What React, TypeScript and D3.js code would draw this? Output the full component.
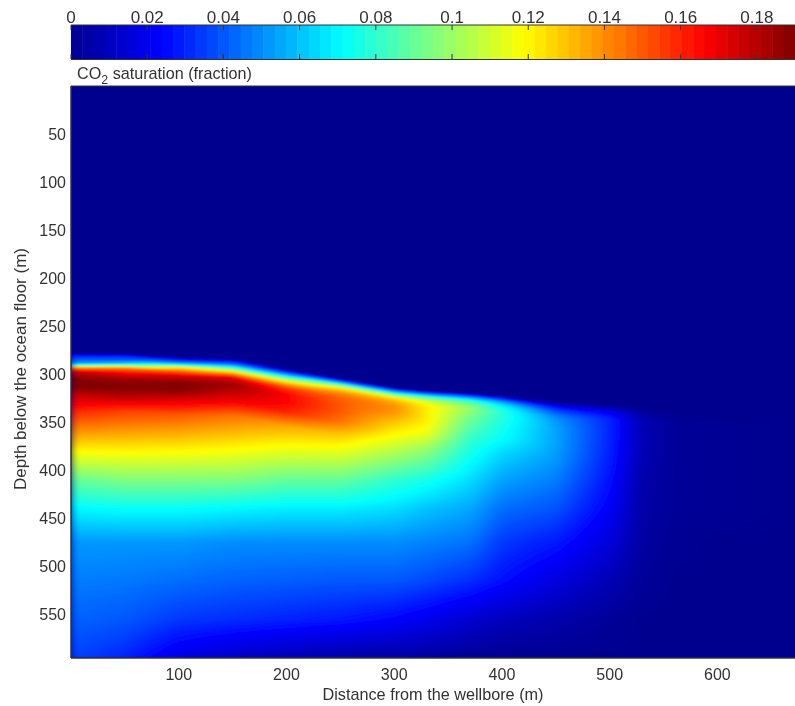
import React, { useMemo } from "react";
import * as d3 from "d3";

const distances = [0, 50, 100, 150, 200, 250, 300, 330, 370, 400, 450, 500, 530, 560, 600, 672];
const frontDepth = [278, 278, 282, 283, 294, 304, 314, 317, 319, 322, 329, 332, 335, 338, 340, 345];
const frontOffsets = [0, 3, 7, 11, 15, 20, 27, 35, 45, 60];
const deepDepths = [410, 440, 475, 515, 555, 596];
const sat0 = [0, .03, .042, .055, .14, .18, .19, .19, .175, .16, .09, .07, .052, .047, .042, .036];
const sat50 = [0, .03, .04, .065, .14, .165, .185, .19, .18, .155, .095, .072, .052, .046, .04, .03];
const sat100 = [0, .025, .06, .125, .15, .175, .19, .188, .172, .15, .095, .072, .052, .044, .034, .018];
const sat150 = [0, .02, .05, .09, .13, .17, .185, .178, .168, .145, .095, .07, .05, .042, .032, .012];
const sat200 = [0, .02, .06, .1, .13, .155, .166, .166, .16, .135, .09, .068, .05, .041, .03, .008];
const sat250 = [0, .03, .09, .125, .14, .148, .15, .15, .145, .128, .09, .068, .05, .04, .028, .005];
const sat300 = [0, .04, .09, .125, .135, .14, .138, .13, .122, .11, .08, .065, .05, .04, .024, .004];
const sat330 = [0, .04, .085, .11, .12, .122, .122, .12, .115, .1, .075, .06, .048, .037, .02, .003];
const sat370 = [0, .03, .07, .09, .098, .098, .092, .088, .082, .076, .065, .055, .045, .032, .014, .001];
const sat400 = [0, .025, .055, .07, .076, .078, .076, .074, .072, .064, .054, .044, .034, .026, .01, 0];
const sat450 = [0, .015, .03, .04, .048, .052, .054, .054, .054, .052, .047, .039, .028, .017, .006, 0];
const sat500 = [0, .01, .02, .026, .03, .03, .03, .03, .029, .028, .026, .022, .016, .008, .002, 0];
const sat530 = [0, .002, .005, .007, .008, .008, .008, .008, .008, .007, .006, .005, .004, .002, 0, 0];
const sat560 = [0, 0, .001, .002, .002, .002, .002, .002, .002, .002, .002, .002, .001, 0, 0, 0];
const sat600 = [0, 0, 0, .001, .001, .001, .001, .001, .001, .001, .001, .001, 0, 0, 0, 0];
const sat672 = [0, 0, 0, 0, 0, 0, 0, 0, 0, 0, 0, 0, 0, 0, 0, 0];
const columns = [sat0, sat50, sat100, sat150, sat200, sat250, sat300, sat330, sat370, sat400, sat450, sat500, sat530, sat560, sat600, sat672];

const xTicks = [100, 200, 300, 400, 500, 600];
const yTicks = [50, 100, 150, 200, 250, 300, 350, 400, 450, 500, 550];
const cbTicks = [0, 0.02, 0.04, 0.06, 0.08, 0.1, 0.12, 0.14, 0.16, 0.18];
const cbTickLabels = ["0", "0.02", "0.04", "0.06", "0.08", "0.1", "0.12", "0.14", "0.16", "0.18"];
const satMax = 0.19;
const levels = d3.range(64);

const W = 795, H = 706;
const left = 71, right = 795, top = 86, bottom = 658;
const x = d3.scaleLinear().domain([0, 672]).range([left, right]);
const y = d3.scaleLinear().domain([0, 596]).range([top, bottom]);
const cb = d3.scaleLinear().domain([0, satMax]).range([left, right]);

const jet = d3.scaleLinear<string>()
  .domain([0, 0.125, 0.375, 0.625, 0.875, 1])
  .range(["#00008f", "#0000ff", "#00ffff", "#ffff00", "#ff0000", "#800000"])
  .clamp(true);

function sample(dist: number, depth: number) {
  const i = Math.min(distances.length - 2, Math.max(0, d3.bisectRight(distances, dist) - 1));
  const t = (dist - distances[i]) / (distances[i + 1] - distances[i]);
  const f = frontDepth[i] * (1 - t) + frontDepth[i + 1] * t;
  const knots = [...frontOffsets.map((o) => f + o), ...deepDepths];
  if (depth <= knots[0]) return 0;
  const k = Math.min(knots.length - 2, d3.bisectRight(knots, depth) - 1);
  const u = (depth - knots[k]) / (knots[k + 1] - knots[k]);
  const a = columns[i], b = columns[i + 1];
  const v0 = a[k] * (1 - t) + b[k] * t;
  const v1 = a[k + 1] * (1 - t) + b[k + 1] * t;
  return v0 * (1 - u) + v1 * u;
}

function renderField() {
  const w = right - left, h = bottom - top;
  const canvas = document.createElement("canvas");
  canvas.width = w; canvas.height = h;
  const ctx = canvas.getContext("2d")!;
  const img = ctx.createImageData(w, h);
  for (let py = 0; py < h; py++) {
    for (let px = 0; px < w; px++) {
      const c = d3.rgb(jet(sample(x.invert(px + left), y.invert(py + top)) / satMax));
      const o = (py * w + px) * 4;
      img.data[o] = c.r; img.data[o + 1] = c.g; img.data[o + 2] = c.b; img.data[o + 3] = 255;
    }
  }
  ctx.putImageData(img, 0, 0);
  return canvas.toDataURL();
}

const textStyle = { fontFamily: "Liberation Sans", fontSize: 16, fill: "#333" } as const;
const fit = (len: number) => ({ textLength: len, lengthAdjust: "spacingAndGlyphs" as const });

export default function App() {
  const href = useMemo(renderField, []);
  const bandW = (right - left) / levels.length;
  return (
    <svg width={W} height={H} viewBox={`0 0 ${W} ${H}`} style={{ position: "absolute", left: 0, top: 0, background: "#fff" }}>
      <defs>
        <filter id="soft" x="-3%" y="-3%" width="106%" height="106%"><feGaussianBlur stdDeviation="4 1" /></filter>
        <filter id="txt" x="-5%" y="-20%" width="110%" height="140%"><feGaussianBlur stdDeviation="0.4" /></filter>
        <clipPath id="plot"><rect x={left} y={top} width={right - left} height={bottom - top} /></clipPath>
      </defs>
      {levels.map((l) => (
        <rect key={l} x={left + l * bandW} y={25} width={bandW + 0.5} height={34} fill={jet((l + 0.5) / levels.length)} />
      ))}
      <line x1={left} x2={right} y1={25} y2={25} stroke="#333" />
      <line x1={left} x2={right} y1={59.5} y2={59.5} stroke="#333" />
      {cbTicks.map((t, i) => (
        <g key={t}>
          <line x1={cb(t)} x2={cb(t)} y1={25} y2={30} stroke="#333" />
          <line x1={cb(t)} x2={cb(t)} y1={54} y2={59} stroke="#333" />
          <text x={cb(t)} y={23} textAnchor="middle" style={{ ...textStyle, fontSize: 17 }} filter="url(#txt)">{cbTickLabels[i]}</text>
        </g>
      ))}
      <text x={77} y={79} style={{ ...textStyle, fontSize: 17 }} {...fit(175)} filter="url(#txt)">
        CO<tspan dy={5} fontSize={13}>2</tspan><tspan dy={-5}> saturation (fraction)</tspan>
      </text>
      <g clipPath="url(#plot)">
        <rect x={left} y={top} width={right - left} height={bottom - top} fill="#00008f" />
        <image href={href} x={left} y={top} width={right - left} height={bottom - top} preserveAspectRatio="none" filter="url(#soft)" />
      </g>
      <line x1={left} x2={left} y1={top} y2={bottom} stroke="#333" strokeWidth={1.5} />
      <line x1={left} x2={right} y1={bottom} y2={bottom} stroke="#333" strokeWidth={1.5} />
      <line x1={left} x2={right} y1={top} y2={top} stroke="#333" />
      {xTicks.map((t) => (
        <text key={t} x={x(t)} y={680} textAnchor="middle" style={textStyle} filter="url(#txt)">{t}</text>
      ))}
      {yTicks.map((t) => (
        <text key={t} x={66} y={y(t) + 6} textAnchor="end" style={textStyle} filter="url(#txt)">{t}</text>
      ))}
      <text x={433} y={700} textAnchor="middle" style={{ ...textStyle, fontSize: 17 }} {...fit(221)} filter="url(#txt)">Distance from the wellbore (m)</text>
      <text transform="translate(26,369) rotate(-90)" textAnchor="middle" style={{ ...textStyle, fontSize: 17 }} {...fit(242)} filter="url(#txt)">Depth below the ocean floor (m)</text>
    </svg>
  );
}
